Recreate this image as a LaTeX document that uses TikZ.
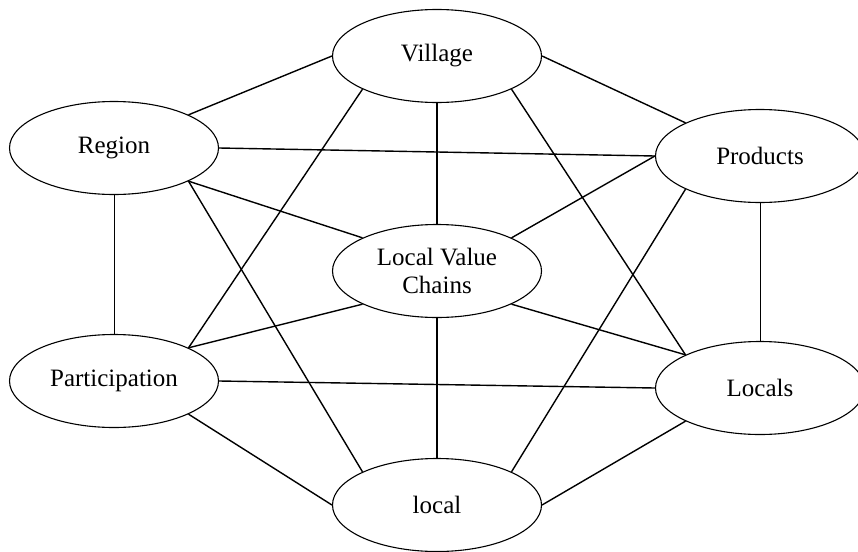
\documentclass[tikz,border=0pt]{standalone}
\usepackage{fontspec}
\setmainfont{Liberation Serif}
\usetikzlibrary{shapes.geometric}
\tikzset{
  oval/.style={ellipse, draw=black, line width=1.1pt, minimum width=209pt, minimum height=93pt,
    inner sep=0pt, align=center, font=\fontsize{25}{28.5}\selectfont},
  link/.style={line width=1.4pt, black},
  thinlink/.style={line width=1pt, black}
}
\begin{document}
\begin{tikzpicture}[x=1pt,y=-1pt]
\useasboundingbox (0,0) rectangle (858,551);
\fill[white] (0,0) rectangle (858,551);
\node[oval] (village) at (437,56) {Village};
\node[oval] (region) at (114,148) {Region};
\node[oval] (products) at (760,156) {Products};
\node[oval] (lvc) at (437,271) {Local Value\\Chains};
\node[oval] (part) at (114,381) {Participation};
\node[oval] (locals) at (760,388) {Locals};
\node[oval] (local) at (437,505) {local};
\draw[link] (village.west) -- (region.24);
\draw[link] (village.east) -- (products.156);
\draw[link] (village.south) -- (lvc.north);
\draw[link] (village.204) -- (part.24);
\draw[link] (village.-24) -- (locals.156);
\draw[link] (region.east) -- (products.west);
\draw[link] (region.-24) -- (lvc.156);
\draw[link] (region.-24) -- (local.156);
\draw[thinlink] (region.south) -- (part.north);
\draw[link] (products.west) -- (lvc.24);
\draw[link] (products.204) -- (local.24);
\draw[thinlink] (products.south) -- (locals.north);
\draw[link] (lvc.204) -- (part.24);
\draw[link] (lvc.-24) -- (locals.156);
\draw[link] (lvc.south) -- (local.north);
\draw[link] (part.east) -- (locals.west);
\draw[link] (part.-24) -- (local.west);
\draw[link] (locals.204) -- (local.east);
\end{tikzpicture}
\end{document}
